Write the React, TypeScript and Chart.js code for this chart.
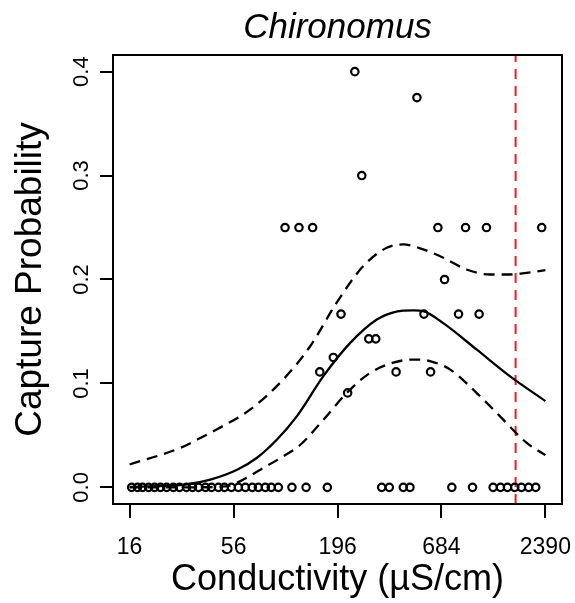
import React, { useEffect, useRef } from "react";
import { Chart, registerables } from "chart.js";

Chart.register(...registerables);

const FONT = '"Liberation Sans", Arial, Helvetica, sans-serif';

// Axis ticks
const xTicks = [16, 56, 196, 684, 2390];
const yTicks = [0, 0.1, 0.2, 0.3, 0.4];

// Sites where Chironomus was not captured (probability 0)
const zeroCond = [
  16.4, 17.6, 18.7, 20.1, 21.6, 23.2, 25.0, 27.1, 29.2, 31.7, 34.1, 36.7, 39.9,
  42.9, 46.6, 50.1, 54.5, 59.3, 64.5, 70.1, 75.4, 82.0, 88.1, 95.9, 113, 134,
  173, 333, 365, 432, 468, 775, 994, 1274, 1392, 1514, 1653, 1791, 1955, 2128,
];

// Sites with a non-zero capture probability
const siteCond = [
  241, 509, 262, 104, 123, 145, 655, 914, 1176, 2287, 710, 204, 554, 840, 1076,
  285, 310, 186, 158, 396, 600, 221,
];
const siteProb = [
  0.4, 0.375, 0.3, 0.25, 0.25, 0.25, 0.25, 0.25, 0.25, 0.25, 0.2, 0.1667,
  0.1667, 0.1667, 0.1667, 0.1429, 0.1429, 0.125, 0.1111, 0.1111, 0.1111, 0.0909,
];

// Fitted curve
const fitCond = [16, 24, 32, 42.3, 58.4, 74.2, 94.4, 120, 165, 228, 314, 380, 432, 490, 549, 699, 1043, 1557, 2390];
const fitProb = [0.0005, 0.0015, 0.003, 0.0075, 0.017, 0.0285, 0.046, 0.0686, 0.107, 0.139, 0.1615, 0.1682, 0.170, 0.1703, 0.1695, 0.158, 0.1327, 0.107, 0.083];

// Upper confidence band
const upperCond = [16, 29.5, 36.1, 45.9, 68.5, 102, 141, 194, 267, 354, 432, 549, 699, 925, 1224, 1557, 1903, 2390];
const upperProb = [0.022, 0.038, 0.046, 0.056, 0.075, 0.104, 0.136, 0.178, 0.213, 0.2305, 0.2337, 0.229, 0.221, 0.2096, 0.2048, 0.2048, 0.2064, 0.209];

// Lower confidence band
const lowerCond = [16, 30, 50.7, 60.7, 77.2, 102, 125, 165, 219, 289, 383, 487, 595, 757, 1043, 1381, 1903, 2390];
const lowerProb = [0.0, 0.0, 0.001, 0.006, 0.017, 0.030, 0.041, 0.065, 0.091, 0.110, 0.120, 0.123, 0.1215, 0.1135, 0.091, 0.0686, 0.043, 0.031];

// Threshold conductivity (red dashed line)
const thresholdCond = 1670;

const X_MIN = 13.1;
const X_MAX = 2920;
const Y_MIN = -0.016;
const Y_MAX = 0.416;

function pairs(xs: number[], ys: number[]) {
  return xs.map((x, i) => ({ x, y: ys[i] }));
}

export default function App() {
  const ref = useRef<HTMLCanvasElement>(null);

  useEffect(() => {
    const canvas = ref.current;
    if (!canvas) return;

    const boxPlugin = {
      id: "rbox",
      afterDatasetsDraw(chart: any) {
        const { ctx, chartArea: a } = chart;
        ctx.save();
        ctx.strokeStyle = "#000";
        ctx.lineWidth = 2;
        ctx.strokeRect(a.left, a.top, a.right - a.left, a.bottom - a.top);
        ctx.restore();
      },
    };

    const textPlugin = {
      id: "rtext",
      afterDraw(chart: any) {
        const { ctx, chartArea: a } = chart;
        const ys = chart.scales.y;
        ctx.save();
        ctx.fillStyle = "#000";
        ctx.font = `22px ${FONT}`;
        ctx.textAlign = "center";
        ctx.textBaseline = "middle";
        yTicks.forEach((v) => {
          const py = ys.getPixelForValue(v);
          ctx.save();
          ctx.translate(a.left - 31, py);
          ctx.rotate(-Math.PI / 2);
          ctx.fillText(v.toFixed(1), 0, 0);
          ctx.restore();
        });
        ctx.font = `italic 35px ${FONT}`;
        ctx.textBaseline = "alphabetic";
        ctx.fillText("Chironomus", (a.left + a.right) / 2, 38);
        ctx.restore();
      },
    };

    const pointStyle = {
      showLine: false,
      pointRadius: 3.7,
      pointBorderWidth: 2.2,
      borderColor: "#000",
      backgroundColor: "rgba(0,0,0,0)",
      pointBackgroundColor: "rgba(0,0,0,0)",
      pointBorderColor: "#000",
    };

    const lineStyle = {
      showLine: true,
      pointRadius: 0,
      borderColor: "#000",
      borderWidth: 2.3,
      fill: false,
      cubicInterpolationMode: "monotone" as const,
    };

    const chart = new Chart(canvas, {
      type: "scatter",
      data: {
        datasets: [
          { ...pointStyle, data: zeroCond.map((x) => ({ x, y: 0 })), order: 1 },
          { ...pointStyle, data: pairs(siteCond, siteProb), order: 1 },
          { ...lineStyle, data: pairs(fitCond, fitProb), order: 2 },
          { ...lineStyle, borderDash: [11, 7], data: pairs(upperCond, upperProb), order: 3 },
          { ...lineStyle, borderDash: [11, 7], data: pairs(lowerCond, lowerProb), order: 3 },
          {
            showLine: true,
            pointRadius: 0,
            borderColor: "rgb(232,30,36)",
            borderWidth: 2,
            borderDash: [10, 7],
            fill: false,
            data: [
              { x: thresholdCond, y: Y_MIN },
              { x: thresholdCond, y: Y_MAX },
            ],
            order: 4,
          },
        ],
      },
      options: {
        animation: false,
        responsive: false,
        devicePixelRatio: 1,
        events: [],
        layout: { padding: { top: 55, right: 13, left: 0, bottom: 0 } },
        plugins: {
          legend: { display: false },
          tooltip: { enabled: false },
          title: { display: false },
        },
        scales: {
          x: {
            type: "logarithmic",
            min: X_MIN,
            max: X_MAX,
            afterBuildTicks: (s: any) => {
              s.ticks = xTicks.map((v) => ({ value: v }));
            },
            afterFit: (s: any) => {
              s.height = 99;
              s.paddingLeft = 0;
              s.paddingRight = 0;
            },
            ticks: {
              autoSkip: false,
              maxRotation: 0,
              minRotation: 0,
              color: "#000",
              padding: 16,
              font: { size: 23, family: FONT },
              callback: (v: any) => String(v),
            },
            grid: {
              drawOnChartArea: false,
              drawTicks: true,
              tickLength: 14,
              color: "#000",
              lineWidth: 2,
            },
            border: { display: false },
            title: {
              display: true,
              text: "Conductivity (µS/cm)",
              color: "#000",
              font: { size: 36, family: FONT, lineHeight: 1 },
              padding: { top: 0, bottom: 5 },
            },
          },
          y: {
            type: "linear",
            min: Y_MIN,
            max: Y_MAX,
            afterBuildTicks: (s: any) => {
              s.ticks = yTicks.map((v) => ({ value: v }));
            },
            afterFit: (s: any) => {
              s.width = 113;
              s.paddingTop = 0;
              s.paddingBottom = 0;
            },
            ticks: { display: false },
            grid: {
              drawOnChartArea: false,
              drawTicks: true,
              tickLength: 13,
              color: "#000",
              lineWidth: 2,
            },
            border: { display: false },
            title: {
              display: true,
              text: "Capture Probability",
              color: "#000",
              font: { size: 37, family: FONT, lineHeight: 1 },
              padding: { top: 12, bottom: 0 },
            },
          },
        },
      },
      plugins: [boxPlugin, textPlugin],
    });

    return () => chart.destroy();
  }, []);

  return (
    <div style={{ position: "absolute", left: 0, top: 0, width: 575, height: 603, background: "#fff" }}>
      <canvas ref={ref} width={575} height={603} style={{ display: "block" }} />
    </div>
  );
}
